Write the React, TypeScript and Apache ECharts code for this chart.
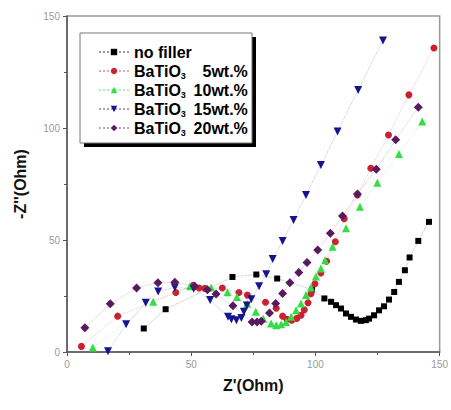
import React, { useEffect, useRef } from "react";
import * as echarts from "echarts";

const xTicks = [0, 50, 100, 150];
const yTicks = [0, 50, 100, 150];

const seriesNames = ["no filler", "BaTiO3 5wt.%", "BaTiO3 10wt.%", "BaTiO3 15wt.%", "BaTiO3 20wt.%"];

const noFiller: number[][] = [
  [30.9, 10.5], [39.7, 19.1], [66.6, 33.5], [76.2, 34.6], [84.6, 32.8], [98.6, 27.9],
  [103.6, 23.9], [106.3, 22.4], [108.3, 20.9], [110.3, 19.4], [112.3, 17.2], [114.3, 15.7],
  [116.3, 14.5], [118.3, 13.9], [120.3, 14.2], [121.6, 14.9], [123.6, 16.4], [125.6, 18.6],
  [127.6, 20.4], [129.6, 23.4], [131.7, 26.8], [133.6, 31.3], [136.0, 36.5], [137.9, 42.2],
  [141.4, 49.6], [145.7, 58.1],
];

const ba5: number[][] = [
  [5.8, 2.5], [20.4, 16.0], [43.8, 26.6], [50.8, 29.8], [53.2, 28.6], [55.5, 28.4],
  [62.5, 28.6], [69.2, 26.6], [72.6, 25.4], [79.9, 22.2], [84.2, 19.5], [86.8, 16.0],
  [88.5, 14.6], [90.5, 14.2], [92.5, 15.0], [94.2, 16.4], [95.5, 18.8], [97.0, 22.0],
  [98.2, 26.0], [99.8, 30.5], [102.2, 35.3], [104.5, 40.5], [108.0, 49.2], [111.6, 59.5],
  [116.9, 70.1], [122.3, 82.0], [129.4, 96.9], [137.6, 114.8], [147.7, 135.7],
];

const ba10: number[][] = [
  [10.4, 2.0], [34.7, 22.4], [49.5, 29.3], [58.0, 28.8], [64.6, 26.7], [68.4, 24.6],
  [72.5, 21.5], [76.0, 18.0], [79.0, 14.8], [82.2, 12.7], [84.2, 11.9], [86.2, 12.4],
  [88.2, 13.4], [90.2, 15.7], [92.2, 18.6], [94.2, 21.6], [96.2, 25.4], [98.2, 28.8],
  [100.2, 33.7], [102.2, 37.3], [103.9, 41.0], [106.9, 47.0], [112.3, 55.2], [117.9, 64.8],
  [124.9, 75.6], [133.6, 88.4], [143.0, 102.9],
];

const ba15: number[][] = [
  [16.5, 0.3], [23.8, 12.4], [31.7, 22.0], [36.7, 27.0], [43.4, 28.8], [51.0, 28.2],
  [57.6, 23.2], [64.8, 15.7], [66.2, 14.6], [68.2, 14.2], [70.2, 15.2], [71.2, 18.0],
  [72.4, 20.8], [74.2, 23.6], [77.3, 29.4], [80.2, 34.7], [82.8, 41.5], [86.8, 49.6],
  [91.2, 58.9], [96.2, 70.1], [102.2, 83.5], [108.9, 98.4], [117.2, 117.0], [127.2, 139.1],
];

const ba20: number[][] = [
  [7.2, 10.8], [17.4, 21.5], [28.0, 28.6], [36.6, 30.9], [43.4, 31.1], [51.4, 29.4],
  [56.5, 27.8], [60.0, 25.9], [66.8, 20.6], [74.5, 13.4], [76.5, 13.4], [78.2, 13.7],
  [81.5, 17.4], [84.0, 21.6], [86.8, 26.1], [89.7, 30.9], [93.3, 35.5], [96.6, 40.0],
  [100.9, 45.5], [106.0, 53.0], [110.9, 60.7], [116.9, 70.5], [124.5, 81.6], [132.3, 94.7],
  [141.4, 109.3],
];

const seriesData = [noFiller, ba5, ba10, ba15, ba20];
const colors = ["#000000", "#cc2030", "#33dd44", "#141490", "#5a1a60"];
const symbols = ["rect", "circle", "triangle", "triangle", "diamond"];
const symbolSizes = [6, 7, 8, 8, 9];
const rotations = [0, 0, 0, 180, 0];

export default function App() {
  const ref = useRef<HTMLDivElement>(null);
  useEffect(() => {
    document.body.style.margin = "0";
    if (!ref.current) return;
    const chart = echarts.init(ref.current, undefined, { renderer: "svg" });
    const font = "'Liberation Sans', Arial, sans-serif";
    chart.setOption({
      animation: false,
      backgroundColor: "#ffffff",
      grid: {
        left: 67,
        right: 9,
        top: 16,
        bottom: 58,
        show: true,
        borderColor: "#999999",
        borderWidth: 1.5,
        backgroundColor: "transparent",
      },
      xAxis: {
        type: "value",
        min: xTicks[0],
        max: xTicks[xTicks.length - 1],
        interval: 50,
        name: "Z'(Ohm)",
        nameLocation: "middle",
        nameGap: 25,
        nameTextStyle: { fontFamily: font, fontWeight: "bold", fontSize: 16, color: "#111" },
        axisLine: { show: true, lineStyle: { color: "#555", width: 1.5 } },
        axisTick: { show: true, inside: false, length: 4, lineStyle: { color: "#555" } },
        minorTick: { show: true, splitNumber: 2, length: 3, lineStyle: { color: "#555" } },
        splitLine: { show: false },
        axisLabel: { fontFamily: font, fontSize: 10, color: "#999", margin: 7 },
      },
      yAxis: {
        type: "value",
        min: yTicks[0],
        max: yTicks[yTicks.length - 1],
        interval: 50,
        name: "-Z''(Ohm)",
        nameLocation: "middle",
        nameGap: 39,
        nameTextStyle: { fontFamily: font, fontWeight: "bold", fontSize: 16, color: "#111" },
        axisLine: { show: true, lineStyle: { color: "#555", width: 1.5 } },
        axisTick: { show: true, inside: false, length: 4, lineStyle: { color: "#555" } },
        minorTick: { show: true, splitNumber: 2, length: 3, lineStyle: { color: "#555" } },
        splitLine: { show: false },
        axisLabel: { fontFamily: font, fontSize: 10, color: "#999", margin: 7 },
      },
      graphic: [
        { type: "rect", z: 5, shape: { x: 84, y: 37, width: 172, height: 110 }, style: { fill: "#000" } },
        { type: "rect", z: 6, shape: { x: 80, y: 33, width: 172, height: 110 }, style: { fill: "#fff", stroke: "#777", lineWidth: 1 } },
      ],
      legend: {
        z: 10,
        left: 93,
        top: 38,
        orient: "vertical",
        itemWidth: 30,
        itemHeight: 8,
        itemGap: 1,
        data: seriesNames,
        textStyle: {
          fontFamily: font,
          fontWeight: "bold",
          fontSize: 16,
          color: "#000",
          lineHeight: 18,
          rich: {
            a: { fontFamily: font, fontWeight: "bold", fontSize: 16, color: "#000", lineHeight: 18 },
            s: { fontFamily: font, fontWeight: "bold", fontSize: 9, color: "#000", padding: [9, 0, 0, 0], lineHeight: 18 },
            n: { fontFamily: font, fontWeight: "bold", fontSize: 16, color: "#000", width: 62, align: "right", lineHeight: 18 },
          },
        },
        formatter: (name: string) => {
          if (name === "no filler") return "{a|no filler}";
          const rest = name.replace("BaTiO3 ", "");
          return "{a|BaTiO}{s|3}{n|" + rest + "}";
        },
      },
      series: seriesData.map((d, i) => ({
        name: seriesNames[i],
        type: "line",
        data: d,
        symbol: symbols[i],
        symbolSize: symbolSizes[i],
        symbolRotate: rotations[i],
        showSymbol: true,
        clip: true,
        itemStyle: { color: colors[i] },
        lineStyle: { color: colors[i], width: 0.7, type: "dotted", opacity: 0.4 },
        z: 2 + i * 0.01,
      })),
    });
    return () => chart.dispose();
  }, []);
  return <div ref={ref} style={{ width: 451, height: 410 }} />;
}
